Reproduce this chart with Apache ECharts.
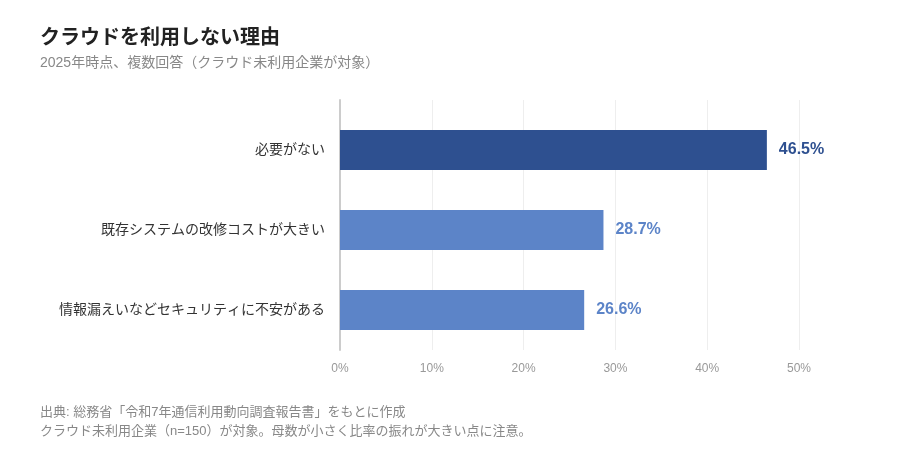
<!DOCTYPE html>
<html>
<head>
<meta charset="utf-8">
<script src="https://cdn.jsdelivr.net/npm/echarts@6/dist/echarts.min.js"></script>
<style>
  html, body { margin: 0; padding: 0; background: #fff; }
  #chart { width: 900px; height: 460px; }
</style>
</head>
<body>
<div id="chart"></div>
<script>
  // data (top to bottom)
  const categories = [
    "必要がない",
    "既存システムの改修コストが大きい",
    "情報漏えいなどセキュリティに不安がある"
  ];
  const values = [46.5, 28.7, 26.6];
  const tickLabels = ["0%", "10%", "20%", "30%", "40%", "50%"];

  const FONT = "'Liberation Sans', 'Noto Sans CJK JP', sans-serif";
  const DARK = "#2e5090";
  const LIGHT = "#5c84c8";
  const maxVal = Math.max(...values);
  const barColor = (v) => (v === maxVal ? DARK : LIGHT);

  const chart = echarts.init(document.getElementById("chart"));

  const option = {
    backgroundColor: "#fff",
    textStyle: { fontFamily: FONT },
    title: {
      text: "クラウドを利用しない理由",
      subtext: "2025年時点、複数回答（クラウド未利用企業が対象）",
      left: 35,
      top: 23,
      itemGap: 8,
      textStyle: { fontSize: 20, fontWeight: "bold", color: "#222", fontFamily: FONT },
      subtextStyle: { fontSize: 14, color: "#888", fontFamily: FONT }
    },
    graphic: [
      {
        type: "text",
        left: 40,
        top: 403,
        style: {
          text: "出典: 総務省「令和7年通信利用動向調査報告書」をもとに作成\nクラウド未利用企業（n=150）が対象。母数が小さく比率の振れが大きい点に注意。",
          fill: "#888",
          font: "13px " + FONT,
          lineHeight: 19
        }
      }
    ],
    // grid 0: frame (split lines, tick labels, axis line); grid 1: bars
    grid: [
      { left: 340, right: 101, top: 100, height: 250 },
      { left: 340, right: 101, top: 110, height: 240 }
    ],
    xAxis: [
      {
        gridIndex: 0,
        type: "value",
        min: 0,
        max: 50,
        interval: 10,
        axisLine: { show: false },
        axisTick: { show: false },
        axisLabel: {
          color: "#999",
          fontSize: 12,
          margin: 13,
          formatter: (v) => tickLabels[Math.round(v / 10)]
        },
        splitLine: { show: true, lineStyle: { color: "#eeeeee", width: 1 } }
      },
      {
        gridIndex: 1,
        type: "value",
        min: 0,
        max: 50,
        show: false
      }
    ],
    yAxis: [
      {
        gridIndex: 0,
        type: "value",
        min: 0,
        max: 1,
        axisLabel: { show: false },
        axisTick: { show: false },
        splitLine: { show: false },
        axisLine: { show: true, lineStyle: { color: "#cccccc", width: 2 } }
      },
      {
        gridIndex: 1,
        type: "category",
        inverse: true,
        data: categories,
        axisLine: { show: false },
        axisTick: { show: false },
        axisLabel: { color: "#333", fontSize: 14, margin: 15 }
      }
    ],
    series: [
      {
        type: "bar",
        xAxisIndex: 1,
        yAxisIndex: 1,
        barWidth: 40,
        data: values.map((v) => ({
          value: v,
          itemStyle: { color: barColor(v) },
          label: { color: barColor(v) }
        })),
        label: {
          show: true,
          position: "right",
          distance: 12,
          fontSize: 16,
          fontWeight: "bold",
          fontFamily: FONT,
          formatter: (p) => p.value.toFixed(1) + "%"
        }
      }
    ]
  };

  chart.setOption(option);
</script>
</body>
</html>
